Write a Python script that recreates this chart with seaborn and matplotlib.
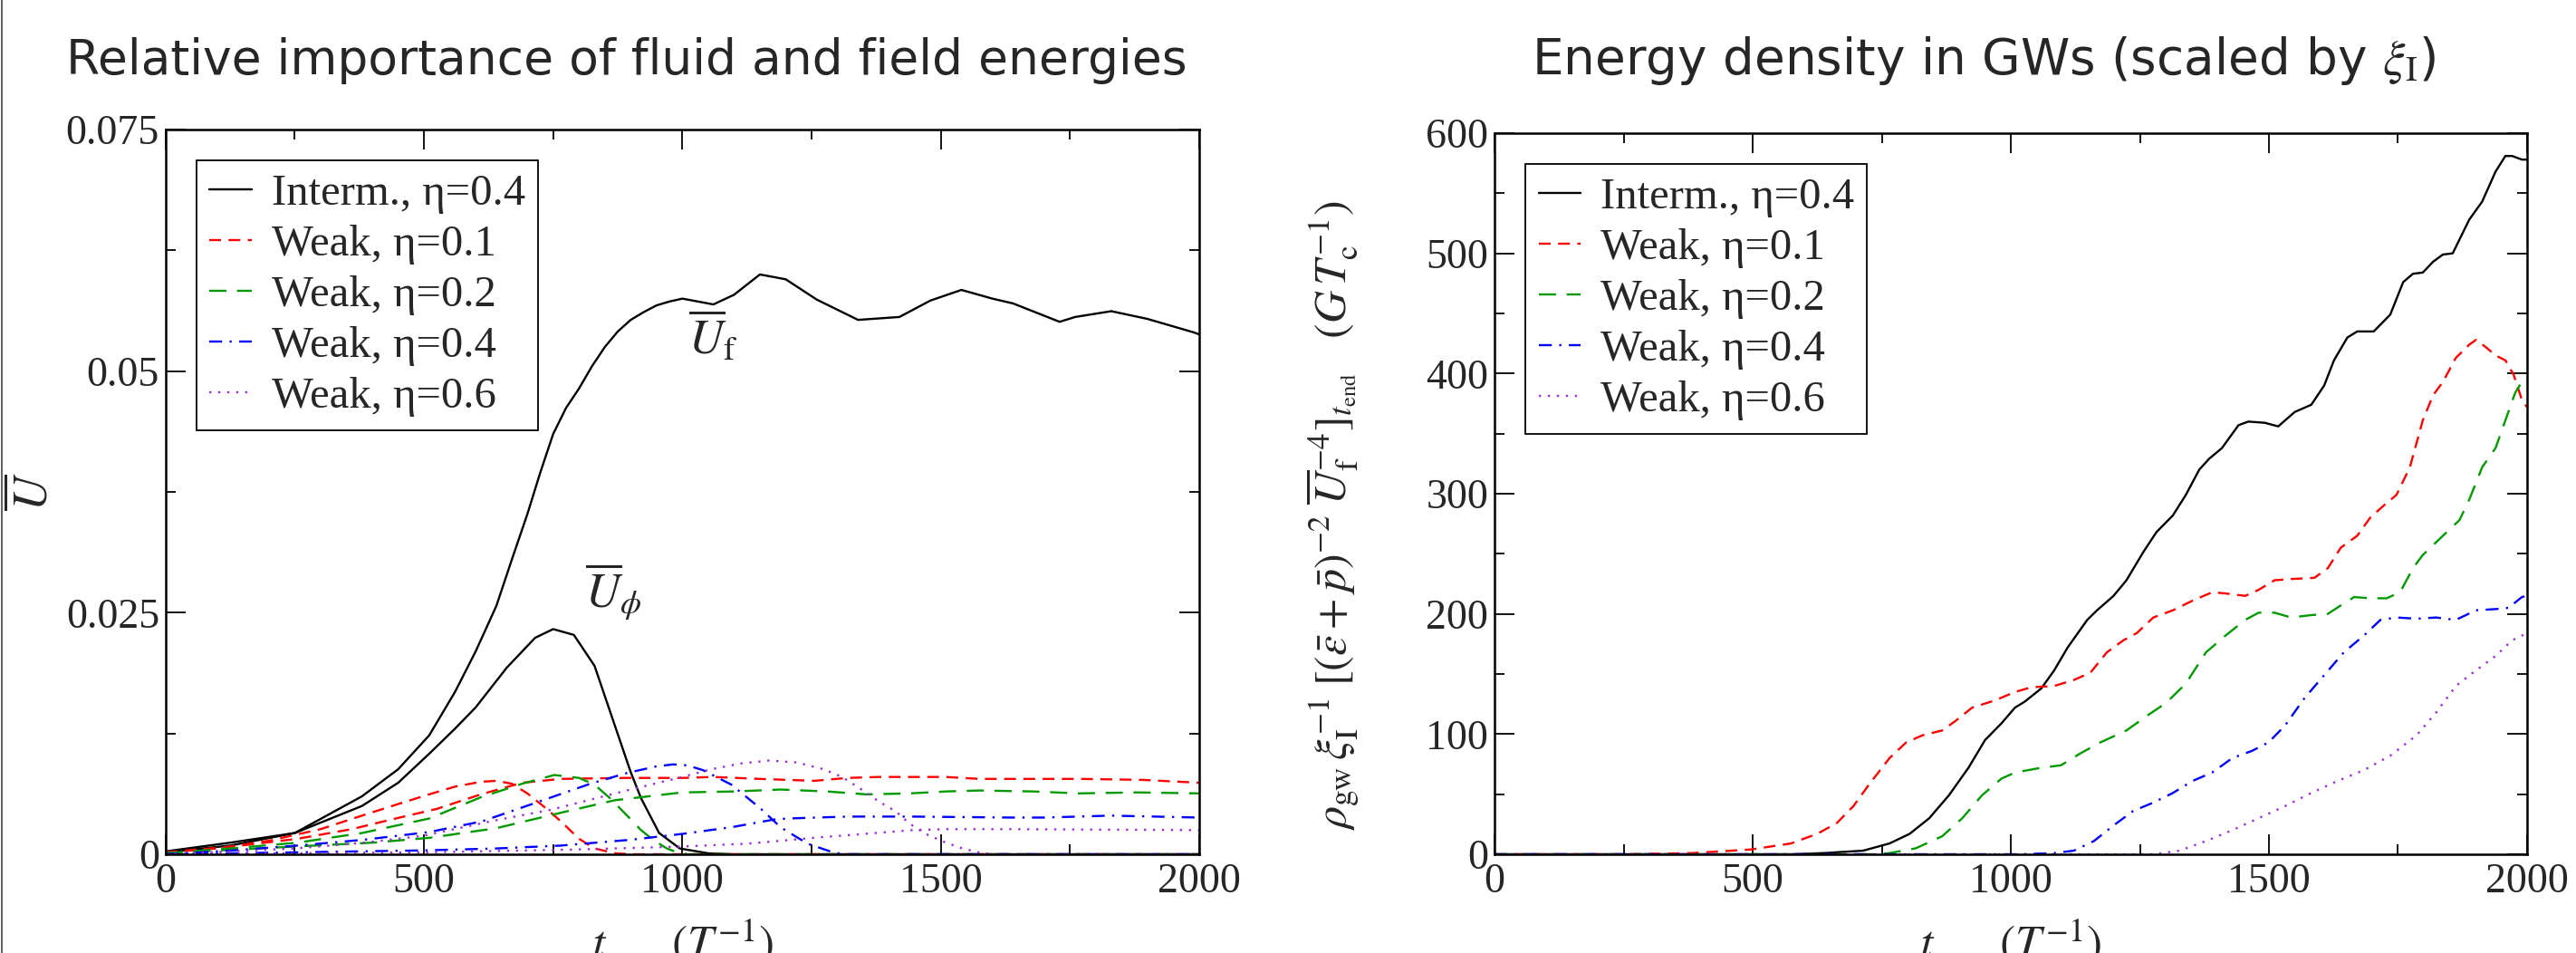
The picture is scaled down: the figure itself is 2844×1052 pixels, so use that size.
import numpy as np
import pandas as pd
import seaborn as sns
import matplotlib.pyplot as plt
import matplotlib.ticker as ticker
from matplotlib.lines import Line2D

# ---------------- left panel : U-bar vs t ----------------
# Intermediate, eta=0.4 (fluid U_f and field U_phi)
t_int_f = [0, 125, 250, 380, 450, 510, 560, 600, 640, 670, 700, 725, 750, 775, 800, 825, 850, 875, 900, 925,
           950, 975, 1000, 1060, 1100, 1150, 1200, 1260, 1340, 1420, 1480, 1540, 1600, 1640, 1730, 1760,
           1830, 1900, 1990, 2000]
U_int_f = [0.0002, 0.0009, 0.0022, 0.0060, 0.0088, 0.0123, 0.0168, 0.0210, 0.0257, 0.0305, 0.0352, 0.0395,
           0.0435, 0.0462, 0.0482, 0.0505, 0.0525, 0.0541, 0.0553, 0.0561, 0.0568, 0.0572, 0.0575, 0.0569,
           0.0579, 0.0600, 0.0595, 0.0574, 0.0553, 0.0556, 0.0573, 0.0584, 0.0575, 0.0570, 0.0551, 0.0556,
           0.0562, 0.0554, 0.0540, 0.0538]
t_int_phi = [0, 125, 250, 380, 450, 510, 560, 600, 660, 715, 750, 790, 830, 865, 900, 920, 955, 995, 1050,
             1100, 1500, 2000]
U_int_phi = [0.0003, 0.0012, 0.0022, 0.0050, 0.0074, 0.0104, 0.0130, 0.0152, 0.0193, 0.0224, 0.0233, 0.0227,
             0.0195, 0.0140, 0.0085, 0.0058, 0.0022, 0.0006, 0.0001, 0.0, 0.0, 0.0]

# Weak, eta=0.1
t_w01_f = [0, 130, 255, 360, 445, 525, 610, 690, 765, 890, 1000, 1060, 1150, 1255, 1320, 1380, 1510, 1575,
           1640, 1770, 1890, 2000]
U_w01_f = [0.0002, 0.0008, 0.0016, 0.0026, 0.0037, 0.0047, 0.0062, 0.0074, 0.0078, 0.0079, 0.0079, 0.0080,
           0.0078, 0.0076, 0.0079, 0.0080, 0.0080, 0.0078, 0.0078, 0.0078, 0.0077, 0.0074]
t_w01_phi = [0, 100, 200, 300, 380, 450, 510, 560, 610, 640, 670, 700, 735, 765, 800, 830, 870, 900, 2000]
U_w01_phi = [0.0002, 0.0006, 0.0014, 0.0026, 0.0040, 0.0052, 0.0062, 0.0070, 0.0075, 0.0076, 0.0073, 0.0063,
             0.0048, 0.0034, 0.0016, 0.0006, 0.0001, 0.0, 0.0]

# Weak, eta=0.2
t_w02_f = [0, 250, 400, 510, 640, 765, 870, 1000, 1100, 1190, 1280, 1356, 1440, 1510, 1575, 1680, 1765,
           1880, 2000]
U_w02_f = [0.0001, 0.0008, 0.0012, 0.0017, 0.0027, 0.0043, 0.0056, 0.0064, 0.0065, 0.0067, 0.0065, 0.0062,
           0.0063, 0.0065, 0.0066, 0.0065, 0.0063, 0.0064, 0.0063]
t_w02_phi = [0, 125, 255, 380, 510, 610, 690, 752, 800, 830, 860, 893, 920, 943, 970, 990, 1010, 2000]
U_w02_phi = [0.0001, 0.0006, 0.0012, 0.0022, 0.0037, 0.0059, 0.0073, 0.0082, 0.0079, 0.0072, 0.0058, 0.0040,
             0.0025, 0.0015, 0.0006, 0.0002, 0.0, 0.0]

# Weak, eta=0.4
t_w04_f = [0, 250, 500, 640, 765, 900, 999, 1095, 1178, 1203, 1318, 1446, 1637, 1701, 1829, 2000]
U_w04_f = [0.0, 0.0002, 0.0004, 0.0006, 0.0009, 0.0015, 0.0021, 0.0028, 0.0036, 0.0037, 0.0039, 0.0039,
           0.0038, 0.0038, 0.0040, 0.0038]
t_w04_phi = [0, 130, 255, 383, 510, 612, 720, 822, 892, 950, 982, 1010, 1040, 1095, 1152, 1190, 1242, 1286,
             1310, 2000]
U_w04_phi = [0.0, 0.0004, 0.0009, 0.0015, 0.0023, 0.0034, 0.0054, 0.0073, 0.0084, 0.0091, 0.0093, 0.0092,
             0.0087, 0.0072, 0.0047, 0.0028, 0.0011, 0.0003, 0.0, 0.0]

# Weak, eta=0.6
t_w06_f = [0, 500, 800, 999, 1127, 1254, 1350, 1446, 1510, 1637, 2000]
U_w06_f = [0.0, 0.0002, 0.0005, 0.0008, 0.0011, 0.0017, 0.0021, 0.0025, 0.0026, 0.0026, 0.0025]
t_w06_phi = [0, 250, 383, 497, 637, 745, 892, 1000, 1056, 1114, 1168, 1222, 1273, 1309, 1344, 1382, 1414,
             1439, 1471, 1510, 1542, 1573, 1600, 2000]
U_w06_phi = [0.0, 0.0006, 0.0012, 0.0019, 0.0035, 0.0046, 0.0066, 0.0080, 0.0088, 0.0094, 0.0097, 0.0095,
             0.0088, 0.0080, 0.0068, 0.0054, 0.0044, 0.0032, 0.0021, 0.0012, 0.0006, 0.0002, 0.0, 0.0]

# ---------------- right panel : GW energy density ----------------
t_gw_int = [0, 574, 638, 714, 765, 804, 842, 880, 918, 950, 982, 1008, 1027, 1059, 1084, 1110, 1148, 1167,
            1199, 1224, 1256, 1282, 1314, 1339, 1365, 1384, 1409, 1441, 1460, 1492, 1518, 1550, 1582, 1607,
            1626, 1652, 1671, 1703, 1735, 1760, 1779, 1798, 1818, 1837, 1856, 1888, 1913, 1939, 1958, 1971,
            1990, 2000]
gw_int = [0, 0, 1, 3, 9, 17, 30, 49, 72, 95, 109, 122, 127, 138, 153, 172, 195, 203, 215, 228, 251, 268,
          282, 299, 320, 329, 338, 357, 360, 359, 356, 368, 374, 390, 411, 430, 435, 435, 449, 476, 483, 484,
          493, 499, 500, 528, 543, 568, 581, 581, 578, 578]
t_gw_w01 = [0, 255, 383, 497, 574, 625, 663, 695, 727, 765, 797, 829, 867, 893, 925, 969, 1008, 1040, 1084,
            1122, 1154, 1186, 1218, 1244, 1276, 1314, 1352, 1390, 1416, 1454, 1480, 1511, 1543, 1588, 1614,
            1639, 1671, 1696, 1722, 1747, 1773, 1798, 1818, 1837, 1862, 1888, 1901, 1920, 1939, 1958, 1974,
            1990, 2000]
gw_w01 = [0, 0, 1, 4, 9, 17, 26, 40, 59, 80, 93, 99, 103, 111, 122, 128, 135, 139, 140, 145, 151, 168, 178,
          184, 197, 203, 211, 218, 217, 215, 220, 228, 229, 230, 238, 255, 265, 280, 290, 299, 322, 361, 382,
          393, 413, 424, 428, 422, 415, 411, 399, 378, 372]
t_gw_w02 = [0, 740, 765, 816, 867, 906, 944, 982, 1008, 1059, 1097, 1135, 1173, 1224, 1263, 1301, 1339, 1378,
            1416, 1454, 1480, 1511, 1543, 1582, 1614, 1639, 1665, 1696, 1728, 1754, 1779, 1798, 1837, 1869,
            1888, 1913, 1939, 1958, 1977, 1990, 2000]
gw_w02 = [0, 0, 1, 5, 15, 30, 49, 63, 68, 72, 74, 84, 93, 103, 115, 126, 142, 168, 182, 195, 201, 201, 197,
          199, 200, 207, 214, 213, 213, 218, 238, 249, 265, 278, 295, 322, 338, 361, 384, 393, 393]
t_gw_w04 = [0, 1020, 1084, 1122, 1161, 1199, 1237, 1276, 1314, 1352, 1390, 1429, 1467, 1499, 1531, 1569,
            1607, 1645, 1684, 1716, 1747, 1786, 1824, 1862, 1901, 1939, 1964, 1990, 2000]
gw_w04 = [0, 0, 1, 3, 11, 24, 36, 43, 51, 61, 68, 80, 86, 93, 107, 130, 149, 168, 182, 195, 197, 196, 197,
          195, 203, 204, 205, 214, 215]
t_gw_w06 = [0, 1276, 1327, 1378, 1429, 1480, 1531, 1582, 1633, 1684, 1735, 1786, 1824, 1862, 1901, 1939,
            1971, 2000]
gw_w06 = [0, 0, 3, 11, 20, 30, 40, 51, 61, 70, 82, 99, 118, 140, 153, 165, 178, 184]

labels = ["Interm., \u03b7=0.4", "Weak, \u03b7=0.1", "Weak, \u03b7=0.2", "Weak, \u03b7=0.4", "Weak, \u03b7=0.6"]
colors = ["black", "#ff0000", "#009a00", "#0000ff", "#9b30d9"]
styles = ["-", (0, (5.5, 3.5)), (0, (8, 5)), (0, (6, 3.5, 1, 3.5)), (0, (1, 3.2))]

left_curves = [
    [(t_int_f, U_int_f), (t_int_phi, U_int_phi)],
    [(t_w01_f, U_w01_f), (t_w01_phi, U_w01_phi)],
    [(t_w02_f, U_w02_f), (t_w02_phi, U_w02_phi)],
    [(t_w04_f, U_w04_f), (t_w04_phi, U_w04_phi)],
    [(t_w06_f, U_w06_f), (t_w06_phi, U_w06_phi)],
]
right_curves = [(t_gw_int, gw_int), (t_gw_w01, gw_w01), (t_gw_w02, gw_w02),
                (t_gw_w04, gw_w04), (t_gw_w06, gw_w06)]

sns.set_theme(style="ticks")
plt.rcParams['font.family'] = ['Liberation Serif', 'DejaVu Serif']
plt.rcParams['mathtext.fontset'] = 'stix'
plt.rcParams['axes.linewidth'] = 1.8

fig = plt.figure(figsize=(28.44, 10.52), dpi=100)
ax1 = fig.add_axes([0.0643, 0.1036, 0.4012, 0.7605])
ax2 = fig.add_axes([0.5802, 0.1036, 0.4008, 0.7567])

LW = 1.7
for i, pair in enumerate(left_curves):
    for j, (t, u) in enumerate(pair):
        df = pd.DataFrame({"t": t, "U": u})
        sns.lineplot(data=df, x="t", y="U", color=colors[i], linestyle=styles[i], lw=LW,
                     label=labels[i] if j == 0 else "_nolegend_", legend=False, ax=ax1)

for i, (t, g) in enumerate(right_curves):
    df = pd.DataFrame({"t": t, "gw": g})
    sns.lineplot(data=df, x="t", y="gw", color=colors[i], linestyle=styles[i], lw=LW,
                 label=labels[i], legend=False, ax=ax2)

ax1.set_xlim(0, 2000)
ax1.set_ylim(0, 0.075)
ax2.set_xlim(0, 2000)
ax2.set_ylim(0, 600)

ax1.yaxis.set_major_locator(ticker.MultipleLocator(0.025))
ax1.yaxis.set_minor_locator(ticker.MultipleLocator(0.0125))
ax2.yaxis.set_major_locator(ticker.MultipleLocator(100))
ax2.yaxis.set_minor_locator(ticker.MultipleLocator(50))

fmt = ticker.FuncFormatter(lambda v, p: f"{v:g}")
for ax in (ax1, ax2):
    ax.xaxis.set_major_locator(ticker.MultipleLocator(500))
    ax.xaxis.set_minor_locator(ticker.MultipleLocator(250))
    ax.xaxis.set_major_formatter(fmt)
    ax.yaxis.set_major_formatter(fmt)
    ax.tick_params(which='both', direction='in', top=True, right=True, labelsize=33, color='black')
    ax.tick_params(which='major', length=16, width=1.3)
    ax.tick_params(which='minor', length=8, width=1.3)
    ax.tick_params(axis='y', pad=5)
    ax.tick_params(axis='x', pad=7)
    for s in ax.spines.values():
        s.set_color('black')
        s.set_linewidth(1.8)
    ax.set_xlabel(r"$t\qquad(T^{-1})$", fontsize=37)
    ax.xaxis.set_label_coords(0.5, -0.088)
    leg = ax.legend(loc='upper left', borderaxespad=0.7, prop={'family': 'Liberation Serif', 'size': 35},
                    labelspacing=0.25, handlelength=0.95, handletextpad=0.45, borderpad=0.3,
                    fancybox=False, edgecolor='black', framealpha=1)
    leg.get_frame().set_linewidth(1.3)

ax1.set_ylabel(r"$\overline{U}$", fontsize=38)
ax1.yaxis.set_label_coords(-0.105, 0.5)
ax2.set_ylabel(r"$\rho_{\rm gw}\,\xi_{\rm I}^{-1}\;[(\bar{\varepsilon}+\bar{p})^{-2}\;\overline{U}_{\rm f}^{-4}]_{t_{\rm end}}\quad(G\,T_{\rm c}^{-1})$",
               fontsize=36)
ax2.yaxis.set_label_coords(-0.128, 0.47)

ax1.text(1059, 0.0536, r"$\overline{U}_{\rm f}$", fontsize=38, ha='center', va='center')
ax1.text(867, 0.0272, r"$\overline{U}_{\phi}$", fontsize=38, ha='center', va='center')

title_font = ['DejaVu Sans']
fig.text(692 / 2844, 1 - 82 / 1052, "Relative importance of fluid and field energies",
         family=title_font, fontsize=38.5, ha='center', va='baseline')
fig.text(2190 / 2844, 1 - 82 / 1052, r"Energy density in GWs (scaled by $\xi_{\rm I}$)",
         family=title_font, fontsize=39.5, ha='center', va='baseline')

fig.add_artist(Line2D([0.0006, 0.0006], [0, 1], color='#444444', lw=1.2))

fig.savefig("out.png", dpi=100)
